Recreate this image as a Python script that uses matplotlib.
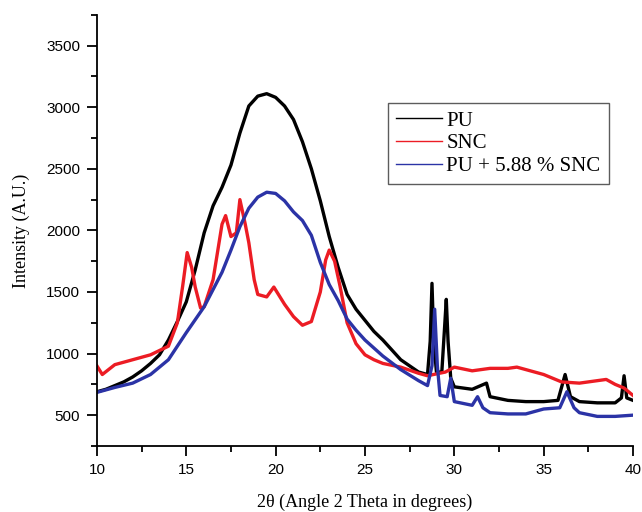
import matplotlib
matplotlib.use("Agg")
import matplotlib.pyplot as plt
from matplotlib.ticker import MultipleLocator

# Values (2theta in degrees, intensity in A.U.)
pu_x = [10, 10.5, 11, 11.5, 12, 12.5, 13, 13.5, 14, 14.5, 15, 15.5, 16, 16.5, 17, 17.5,
        18, 18.5, 19, 19.5, 20, 20.5, 21, 21.5, 22, 22.5, 23, 23.5, 24, 24.5, 25, 25.5,
        26, 26.5, 27, 27.5, 28, 28.5, 28.65, 28.75, 28.85, 29.0, 29.3, 29.45, 29.55,
        29.65, 29.8, 30, 31, 31.8, 32, 33, 34, 35, 35.8, 36.2, 36.5, 37, 38, 39, 39.35,
        39.5, 39.65, 40]
pu_y = [690, 710, 740, 770, 810, 860, 920, 990, 1110, 1260, 1420, 1680, 1980, 2200, 2350, 2530,
        2790, 3010, 3090, 3110, 3080, 3010, 2900, 2720, 2500, 2240, 1950, 1700, 1480, 1360, 1270, 1180,
        1110, 1030, 950, 900, 850, 830, 1100, 1570, 1100, 850, 850, 1200, 1440,
        1100, 800, 730, 710, 760, 650, 620, 610, 610, 620, 830, 650, 610, 600, 600, 640,
        820, 640, 620]

snc_x = [10, 10.3, 11, 12, 13, 14, 14.5, 14.8, 15.05, 15.3, 15.5, 15.8, 16, 16.5, 17, 17.2,
         17.5, 17.8, 18.0, 18.3, 18.5, 18.8, 19, 19.5, 19.9, 20.5, 21, 21.5, 22, 22.5, 22.8,
         23.0, 23.3, 23.6, 24, 24.5, 25, 25.5, 26, 27, 28, 28.5, 29.5, 30, 31, 32, 33, 33.5,
         34, 35, 36, 37, 38, 38.5, 39, 39.5, 40]
snc_y = [900, 830, 910, 950, 990, 1060, 1250, 1550, 1820, 1700, 1540, 1370, 1380, 1600, 2050, 2120,
         1950, 1980, 2250, 2050, 1900, 1600, 1480, 1460, 1540, 1400, 1300, 1230, 1260, 1500, 1760,
         1840, 1750, 1550, 1250, 1080, 990, 950, 920, 890, 840, 820, 850, 890, 860, 880, 880, 890,
         870, 830, 770, 760, 780, 790, 750, 720, 660]

blend_x = [10, 11, 12, 13, 14, 15, 16, 16.5, 17, 17.5, 18, 18.5, 19, 19.5, 20, 20.5, 21,
           21.5, 22, 22.5, 23, 23.5, 24, 24.5, 25, 26, 27, 28, 28.5, 28.75, 28.9, 29.05, 29.2,
           29.6, 29.8, 30, 31, 31.3, 31.6, 32, 33, 34, 35, 35.9, 36.3, 36.7, 37, 38, 39, 40]
blend_y = [685, 725, 760, 830, 950, 1170, 1380, 1520, 1660, 1840, 2030, 2180, 2270, 2310, 2300, 2240, 2150,
           2080, 1960, 1740, 1560, 1430, 1280, 1190, 1110, 980, 870, 780, 740, 900, 1360, 900, 660,
           650, 800, 610, 580, 650, 560, 520, 510, 510, 550, 560, 690, 560, 520, 490, 490, 500]

series = [
    ("PU", pu_x, pu_y, "#000000"),
    ("SNC", snc_x, snc_y, "#ec1c24"),
    ("PU + 5.88 % SNC", blend_x, blend_y, "#2b33a6"),
]

fig = plt.figure(figsize=(6.42, 5.12), dpi=100)
ax = fig.add_axes([0.151, 0.129, 0.835, 0.842])

for name, xs, ys, col in series:
    ax.plot(xs, ys, color=col, lw=2.4, label=name)

ax.set_xlim(10, 40)
ax.set_ylim(250, 3750)
ax.xaxis.set_major_locator(MultipleLocator(5))
ax.xaxis.set_minor_locator(MultipleLocator(2.5))
ax.yaxis.set_minor_locator(MultipleLocator(250))
ax.set_yticks([500, 1000, 1500, 2000, 2500, 3000, 3500])

for side in ("top", "right"):
    ax.spines[side].set_visible(False)
for side in ("left", "bottom"):
    ax.spines[side].set_linewidth(1.3)

ax.tick_params(which="major", direction="out", length=7, width=1.3,
               labelsize=11, pad=5)
ax.tick_params(which="minor", direction="out", length=4, width=1.3)
for lab in ax.get_xticklabels() + ax.get_yticklabels():
    lab.set_family("Liberation Sans")

ax.set_xlabel("2θ (Angle 2 Theta in degrees)", family="Liberation Serif",
              fontsize=13, labelpad=12)
ax.set_ylabel("Intensity (A.U.)", family="Liberation Serif", fontsize=13,
              labelpad=12)

leg = ax.legend(loc="upper left", bbox_to_anchor=(0.543, 0.796), frameon=True,
                fancybox=False, borderaxespad=0, handlelength=2.2,
                handletextpad=0.2, prop={"family": "Liberation Serif", "size": 15},
                labelspacing=0.15, borderpad=0.4)
leg.get_frame().set_edgecolor("#333333")
leg.get_frame().set_linewidth(1.0)
for line in leg.get_lines():
    line.set_linewidth(1.0)

plt.savefig("out.png", dpi=100)
plt.close()
